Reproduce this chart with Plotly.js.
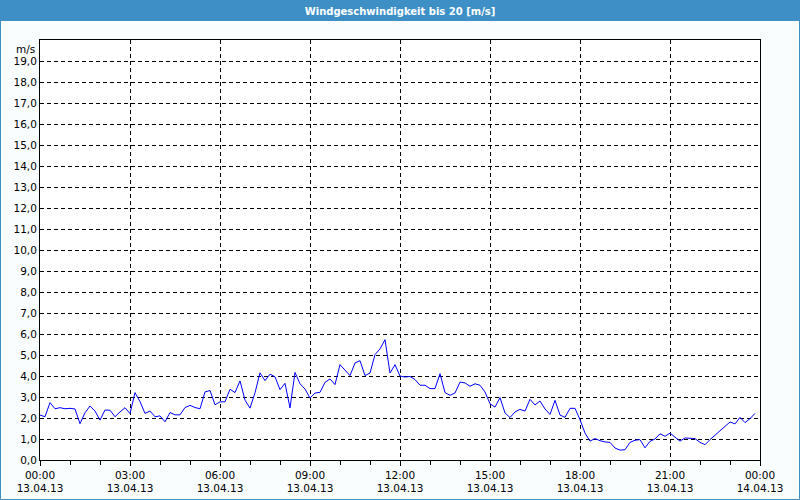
<!DOCTYPE html>
<html>
<head>
<meta charset="utf-8">
<script src="https://cdn.plot.ly/plotly-3.0.1.min.js"></script>
<style>
  html, body { margin: 0; padding: 0; background: #ffffff; }
  #chart { width: 800px; height: 500px; }
</style>
</head>
<body>
<div id="chart"></div>
<script>
// --- data ---
const titleText = 'Windgeschwindigkeit bis 20 [m/s]';
const startTime = '2013-04-13 00:00';
const endTime = '2013-04-14 00:00';
const stepMs = 600000; // 10-minute readings
const windSpeed = [
  2.14, 2.06, 2.73, 2.44, 2.49, 2.44, 2.46, 2.43, 1.73, 2.25,
  2.57, 2.33, 1.90, 2.38, 2.37, 2.06, 2.29, 2.49, 2.21, 3.21,
  2.78, 2.22, 2.33, 2.06, 2.10, 1.82, 2.26, 2.15, 2.15, 2.50,
  2.60, 2.50, 2.44, 3.24, 3.31, 2.63, 2.77, 2.77, 3.37, 3.21,
  3.77, 2.85, 2.47, 3.20, 4.15, 3.78, 4.09, 3.96, 3.35, 3.65,
  2.48, 4.17, 3.63, 3.38, 2.95, 3.19, 3.22, 3.70, 3.86, 3.59,
  4.54, 4.30, 4.02, 4.62, 4.73, 4.02, 4.14, 5.02, 5.29, 5.73,
  4.14, 4.54, 4.00, 3.95, 3.98, 3.83, 3.56, 3.56, 3.40, 3.40,
  4.11, 3.21, 3.08, 3.19, 3.71, 3.67, 3.51, 3.63, 3.56, 3.24,
  2.68, 2.52, 2.97, 2.24, 2.02, 2.29, 2.41, 2.33, 2.89, 2.62,
  2.81, 2.43, 2.17, 2.84, 2.14, 2.03, 2.46, 2.46, 1.92, 1.28,
  0.90, 1.02, 0.92, 0.86, 0.84, 0.57, 0.47, 0.49, 0.84, 0.94,
  0.97, 0.58, 0.89, 1.00, 1.25, 1.13, 1.28, 1.09, 0.90, 1.05,
  1.05, 1.02, 0.84, 0.73, 0.97, 1.19, 1.39, 1.59, 1.81, 1.72,
  2.03, 1.78, 1.97, 2.22
];
const xTickVals = [
  '2013-04-13 00:00', '2013-04-13 03:00', '2013-04-13 06:00',
  '2013-04-13 09:00', '2013-04-13 12:00', '2013-04-13 15:00',
  '2013-04-13 18:00', '2013-04-13 21:00', '2013-04-14 00:00'
];
const xTickText = [
  '00:00<br>13.04.13', '03:00<br>13.04.13', '06:00<br>13.04.13',
  '09:00<br>13.04.13', '12:00<br>13.04.13', '15:00<br>13.04.13',
  '18:00<br>13.04.13', '21:00<br>13.04.13', '00:00<br>14.04.13'
];
const yTickVals = [0,1,2,3,4,5,6,7,8,9,10,11,12,13,14,15,16,17,18,19];
const yTickText = ['0,0','1,0','2,0','3,0','4,0','5,0','6,0','7,0','8,0','9,0',
  '10,0','11,0','12,0','13,0','14,0','15,0','16,0','17,0','18,0','19,0'];
const unitLabel = 'm/s';

// --- layout ---
const W = 800, H = 500, L = 40, R = 40, T = 40, B = 40;
const PW = W - L - R, PH = H - T - B;
const px = v => (v - L) / PW;
const py = v => (H - B - v) / PH;
const blue = 'rgb(61,143,198)';
const font = 'DejaVu Sans, Verdana, sans-serif';

const trace = {
  type: 'scatter', mode: 'lines',
  x0: startTime, dx: stepMs,
  y: windSpeed,
  line: { color: '#0000ff', width: 1 },
  hoverinfo: 'skip'
};

const layout = {
  width: W, height: H,
  margin: { l: L, r: R, t: T, b: B, pad: 0 },
  paper_bgcolor: '#fafdfd',
  plot_bgcolor: '#ffffff',
  showlegend: false,
  font: { family: font, size: 10.5, color: '#000000' },
  title: {
    text: '<b>' + titleText + '</b>',
    font: { family: font, size: 10, color: '#ffffff' },
    x: 0.5, xanchor: 'center', xref: 'paper',
    y: 1 - 11 / H, yanchor: 'middle', yref: 'container'
  },
  xaxis: {
    type: 'date',
    range: [startTime, endTime],
    tickmode: 'array', tickvals: xTickVals, ticktext: xTickText,
    showline: true, linecolor: '#000000', linewidth: 1, mirror: true,
    ticks: 'outside', ticklen: 5, tickcolor: '#000000',
    minor: { dtick: 3600000, ticks: 'outside', ticklen: 4, tickcolor: '#000000', showgrid: false },
    showgrid: true, gridcolor: '#000000', gridwidth: 1, griddash: '4px,3px',
    zeroline: false, fixedrange: true,
    tickfont: { family: font, size: 10.5, color: '#000000' }
  },
  yaxis: {
    range: [0, 20],
    tickmode: 'array', tickvals: yTickVals, ticktext: yTickText,
    showline: true, linecolor: '#000000', linewidth: 1, mirror: true,
    ticks: '', ticklen: 3,
    showgrid: true, gridcolor: '#000000', gridwidth: 1, griddash: '4px,3px',
    zeroline: false, fixedrange: true,
    tickfont: { family: font, size: 10.5, color: '#000000' }
  },
  shapes: [
    { type: 'rect', xref: 'paper', yref: 'paper', layer: 'below',
      x0: px(0), x1: px(W), y0: py(0), y1: py(21),
      fillcolor: blue, line: { width: 0 } },
    { type: 'rect', xref: 'paper', yref: 'paper', layer: 'below',
      x0: px(0.5), x1: px(W - 0.5), y0: py(H - 0.5), y1: py(0.5),
      fillcolor: 'rgba(0,0,0,0)', line: { color: blue, width: 1 } }
  ],
  annotations: [
    { text: unitLabel, xref: 'paper', yref: 'y', x: 0, y: 20,
      xanchor: 'right', yanchor: 'top', xshift: -3, yshift: -1,
      showarrow: false, font: { family: font, size: 10.5, color: '#000000' } }
  ]
};

Plotly.newPlot('chart', [trace], layout, { staticPlot: true, displayModeBar: false });
</script>
</body>
</html>
